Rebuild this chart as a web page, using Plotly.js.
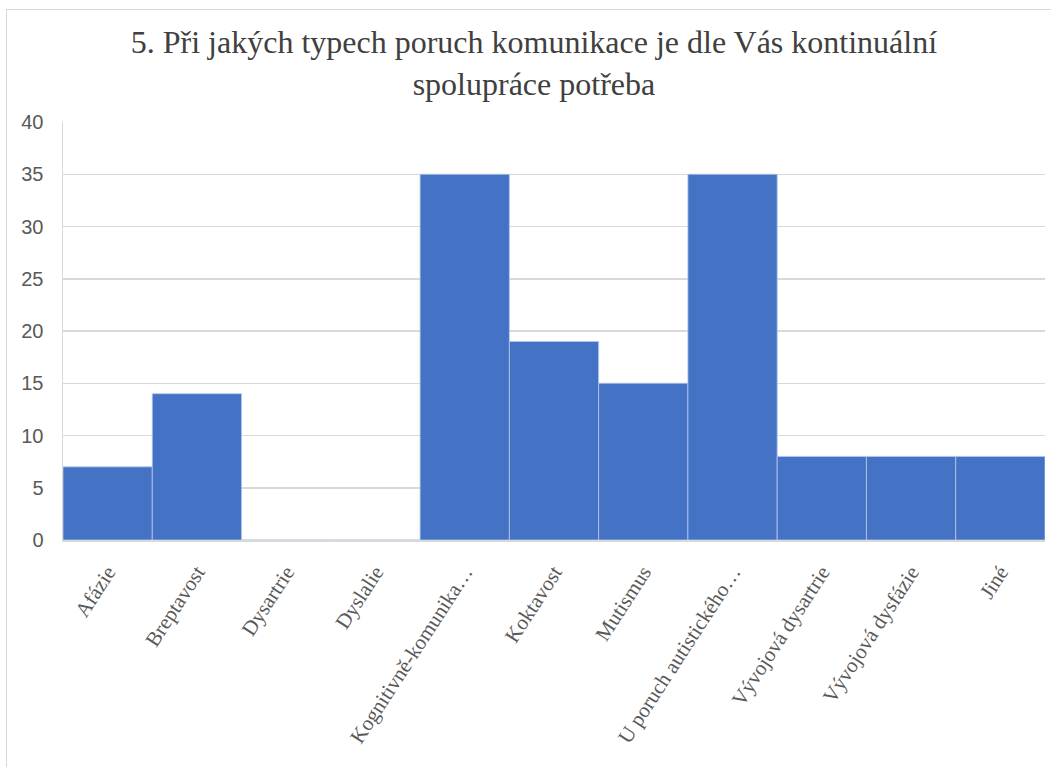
<!DOCTYPE html>
<html>
<head>
<meta charset="utf-8">
<script src="https://cdn.plot.ly/plotly-3.0.1.min.js"></script>
<style>
  html, body { margin: 0; padding: 0; background: #ffffff; }
  #frame { position: absolute; left: 6px; top: 9px; width: 1100px; height: 800px; border: 1px solid #d9d9d9; }
  #chart { position: absolute; left: 0; top: 0; width: 1051px; height: 767px; }
</style>
</head>
<body>
<div id="frame"></div>
<div id="chart"></div>
<script>
const categories = ["Afázie", "Breptavost", "Dysartrie", "Dyslalie", "Kognitivně-komunika…", "Koktavost", "Mutismus", "U poruch autistického…", "Vývojová dysartrie", "Vývojová dysfázie", "Jiné"];
const values = [7, 14, 0, 0, 35, 19, 15, 35, 8, 8, 8];
const yTicks = [0, 5, 10, 15, 20, 25, 30, 35, 40];
const titleText = "5. Při jakých typech poruch komunikace je dle Vás kontinuální<br>spolupráce potřeba";

const serif = 'Liberation Serif, serif';
const sans = 'Liberation Sans, sans-serif';

const trace = {
  type: 'bar',
  x: categories,
  y: values,
  marker: { color: '#4472C4', line: { color: 'rgba(180,200,235,0.8)', width: 1 } },
  hoverinfo: 'x+y'
};

const layout = {
  width: 1051,
  height: 767,
  font: { family: serif, color: '#595959' },
  paper_bgcolor: 'rgba(0,0,0,0)',
  plot_bgcolor: 'rgba(0,0,0,0)',
  margin: { l: 63, r: 6, t: 122, b: 227 },
  bargap: 0,
  showlegend: false,
  title: {
    text: titleText,
    font: { family: serif, size: 32, color: '#404040' },
    x: 0.508, xanchor: 'center',
    y: 1 - 53 / 767, yref: 'container', yanchor: 'top'
  },
  xaxis: {
    type: 'category',
    tickangle: -57,
    tickfont: { family: serif, size: 21, color: '#595959' },
    ticks: 'outside', ticklen: 10, tickcolor: 'rgba(0,0,0,0)',
    showline: true, linecolor: '#d9d9d9', linewidth: 1.5,
    showgrid: false
  },
  yaxis: {
    range: [0, 40],
    tickvals: yTicks,
    tickfont: { family: sans, size: 20, color: '#595959' },
    ticks: 'outside', ticklen: 14, tickcolor: 'rgba(0,0,0,0)',
    showgrid: true, gridcolor: '#d9d9d9', gridwidth: 1.5,
    showline: true, linecolor: '#d9d9d9', linewidth: 1.5,
    zeroline: false
  }
};

Plotly.newPlot('chart', [trace], layout, { displayModeBar: false, staticPlot: true });
</script>
</body>
</html>
